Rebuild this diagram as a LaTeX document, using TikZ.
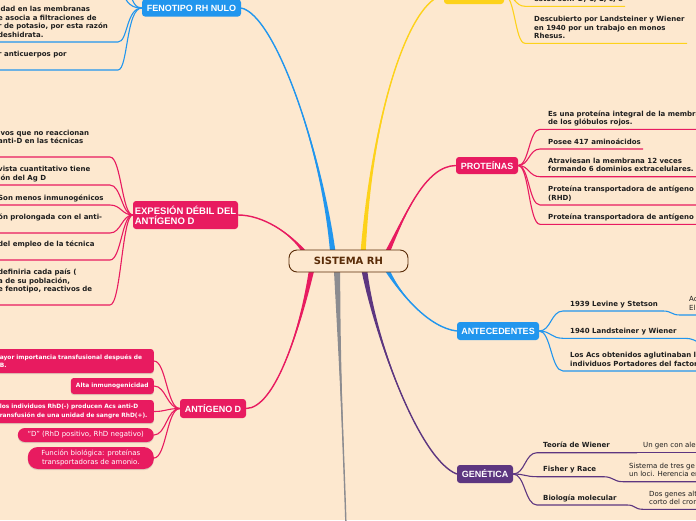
\documentclass[tikz,border=0pt]{standalone}
\usepackage{fontspec}
\usetikzlibrary{calc,shadows}
\newfontfamily\dejavu{DejaVu Sans}
\newfontfamily\liber{Liberation Sans}
\definecolor{fondo}{HTML}{FDE8CF}
\definecolor{rosa}{HTML}{E81B60}
\definecolor{azul}{HTML}{2196EE}
\definecolor{amarillo}{HTML}{FDD21B}
\definecolor{morado}{HTML}{5D3680}
\definecolor{gris}{HTML}{8C8C90}
\definecolor{cafe}{HTML}{5A2C08}
\definecolor{tinta}{HTML}{1E1E1E}
\newcommand{\hojafont}{\dejavu\bfseries\fontsize{7}{8.5}\selectfont}
\newcommand{\notafont}{\dejavu\fontsize{7}{8.5}\selectfont}
\newcommand{\temafont}{\liber\bfseries\fontsize{9}{10}\selectfont}
\newcommand{\raizfont}{\dejavu\bfseries\fontsize{10}{12}\selectfont}
\newcommand{\fichafont}{\dejavu\bfseries\fontsize{5.9}{8.3}\selectfont}
\newcommand{\fichaligera}{\dejavu\fontsize{7}{9}\selectfont}
\pgfdeclarelayer{ramas}
\pgfsetlayers{ramas,main}
% tapered main branch: colour, dx, dy (from root centre), half width, control 1, control 2, target
\newcommand{\rama}[7]{%
  \fill[#1] ($(rh.center)+(#2-#4,#3)$) .. controls #5 and #6 .. (#7)
    .. controls #6 and #5 .. ($(rh.center)+(#2+#4,#3)$) -- cycle;
  \draw[#1,line width=1.4pt] ($(rh.center)+(#2,#3)$) .. controls #5 and #6 .. (#7);}

\begin{document}
\begin{tikzpicture}[x=1pt,y=-1pt]
  \tikzstyle{tema}=[rounded corners=3pt,text=white,font=\temafont,inner sep=0pt]
  \tikzstyle{hoja}=[font=\hojafont,text=tinta,align=left,inner xsep=0pt,inner ysep=2pt,anchor=south west,execute at end node={\strut}]
  \tikzstyle{nota}=[hoja,font=\notafont]
  \tikzstyle{ficha}=[fill=rosa,text=white,font=\fichafont,rounded corners=3pt,anchor=east,drop shadow={opacity=.25,shadow xshift=0pt,shadow yshift=-1.2pt}]
  \tikzstyle{enlace}=[line width=1.1pt]

  \useasboundingbox (0,0) rectangle (696,520);

  \node[draw=cafe,line width=0.9pt,fill=fondo,rounded corners=8pt,minimum width=119pt,minimum height=22pt,text=cafe,font=\raizfont] (rh) at (348.5,261) {SISTEMA RH};

  \node[tema,fill=azul,minimum width=99pt,minimum height=17pt] (fen) at (191.5,8) {FENOTIPO RH NULO};
  \node[tema,fill=amarillo,minimum width=60pt,minimum height=18pt] (gral) at (474,-5) {};
  \node[tema,fill=rosa,minimum width=105pt,minimum height=28pt,align=left,font=\liber\bfseries\fontsize{9.5}{10}\selectfont] (debil) at (185.5,215) {EXPESIÓN DÉBIL DEL\\ANTÍGENO D};
  \node[tema,fill=rosa,minimum width=66pt,minimum height=19pt] (antd) at (213,408.5) {ANTÍGENO D};
  \node[tema,fill=rosa,minimum width=62pt,minimum height=17pt] (prot) at (487,165.5) {PROTEÍNAS};
  \node[tema,fill=azul,minimum width=82pt,minimum height=18pt] (ante) at (498,331) {ANTECEDENTES};
  \node[tema,fill=morado,minimum width=56pt,minimum height=18pt] (gene) at (485,474) {GENÉTICA};
  \coordinate (fin) at (348,600);

  \node[hoja] (f1) at (-2,42) {idad en las membranas\\e asocia a filtraciones de\\r de potasio, por esta razón\\deshidrata.};
  \node[hoja] (f2) at (-2,70) {r anticuerpos por\\};
  \coordinate (fu1) at (121,-12);
  \coordinate (fu2) at (129,-16);

  \node[hoja] (e1) at (-2,157) {ivos que no reaccionan\\anti-D en las técnicas\\};
  \node[hoja] (e2) at (-2,185) {vista cuantitativo tiene\\ión del Ag D};
  \node[hoja] (e3) at (-2,205) {Son menos inmunogénicos};
  \node[hoja] (e4) at (-2,233) {ón prolongada con el anti-\\};
  \node[hoja] (e5) at (-2,260) {del empleo de la técnica\\};
  \node[hoja] (e6) at (-2,305) {definiria cada país (\\a de su población,\\e fenotipo, reactivos de\\};

  \node[ficha,text width=150pt,align=left,minimum height=24pt,inner xsep=4pt] (a1) at (154,361) {\mbox{ayor importancia transfusional después de}\\B.};
  \node[ficha,minimum width=83pt,minimum height=16pt,inner sep=0pt] (a2) at (154,386) {Alta inmunogenicidad};
  \node[ficha,text width=150pt,align=left,minimum height=23pt,inner xsep=4pt] (a3) at (154,411.5) {\mbox{los individuos RhD(-) producen Acs anti-D}\\\mbox{ransfusión de una unidad de sangre RhD(+).}};
  \node[ficha,font=\fichaligera,rounded corners=7pt,minimum width=136pt,minimum height=14pt,inner sep=0pt] (a4) at (154,435) {“D” (RhD positivo, RhD negativo)};
  \node[ficha,font=\fichaligera,rounded corners=10pt,minimum width=126pt,minimum height=22pt,align=center,inner sep=0pt] (a5) at (154,458) {Función biológica: proteínas\\transportadoras de amonio.};

  \node[hoja] (p1) at (548,129.3) {Es una proteína integral de la membra\\de los glóbulos rojos.};
  \node[hoja] (p2) at (548,149) {Posee 417 aminoácidos};
  \node[hoja] (p3) at (548,176.7) {Atraviesan la membrana 12 veces\\formando 6 dominios extracelulares.};
  \node[hoja] (p4) at (548,205) {Proteína transportadora de antígeno D\\(RHD)};
  \node[hoja] (p5) at (548,224.3) {Proteína transportadora de antígeno -};

  \node[hoja] (t1) at (570,311) {1939 Levine y Stetson};
  \node[hoja] (t2) at (570,338.3) {1940 Landsteiner y Wiener};
  \node[hoja] (t3) at (570,371) {Los Acs obtenidos aglutinaban lo\\individuos Portadores del factor};
  \node[nota] (t1n) at (689,315) {Ac\\El};
  \coordinate (t2n) at (712,347);

  \node[hoja] (g1) at (543,452.7) {Teoría de Wiener};
  \node[hoja] (g2) at (543,476.7) {Fisher y Race};
  \node[hoja] (g3) at (543,505) {Biología molecular};
  \node[nota] (g1n) at (643,452.7) {Un gen con ale};
  \node[nota] (g2n) at (629,481.7) {Sistema de tres ge\\un loci. Herencia er};
  \node[nota] (g3n) at (649,509.3) {Dos genes alt\\corto del crom};

  \node[hoja] (y1) at (534,6.3) {estos son: D, C, E, c, e};
  \node[hoja] (y2) at (534,43.3) {Descubierto por Landsteiner y Wiener\\en 1940 por un trabajo en monos\\Rhesus.};

  \begin{pgfonlayer}{ramas}
    \fill[fondo] (0,0) rectangle (696,520);
    \rama{azul}{-15.5}{-7}{2.8}{(322,150)}{(275,15)}{fen.east}
    \rama{amarillo}{14.5}{-7}{2.6}{(372,110)}{(410,0)}{gral.west}
    \rama{rosa}{37.5}{-6}{2.8}{(405,215)}{(425,166)}{prot.west}
    \rama{rosa}{-42.5}{-7}{2.8}{(290,232)}{(262,215)}{debil.east}
    \rama{rosa}{-36.5}{7}{2.8}{(300,330)}{(275,408)}{antd.east}
    \rama{gris}{-11.5}{7}{3.2}{(340,380)}{(346,500)}{fin}
    \rama{morado}{15.5}{7}{3}{(375,340)}{(420,460)}{gene.west}
    \rama{azul}{37.5}{7}{2.8}{(400,295)}{(430,328)}{ante.west}
  \end{pgfonlayer}

  \draw[azul,enlace] (fen.west) .. controls (133,8) and (126,5) .. (fu1);
  \draw[azul,enlace] (fen.west) .. controls (136,8) and (131,3) .. (fu2);
  \draw[azul,enlace] (fen.west) .. controls (126,8) and (128,42) .. ([xshift=120pt]f1.south west) -- ([xshift=-4pt]f1.south west);
  \draw[azul,enlace] (fen.west) .. controls (126,8) and (128,70) .. ([xshift=120pt]f2.south west) -- ([xshift=-4pt]f2.south west);

  \foreach \h/\y in {e1/157,e2/185,e3/205,e4/233,e5/260,e6/305}
    \draw[rosa,enlace] (debil.west) .. controls (122,215) and (121,\y) .. ([xshift=112pt]\h.south west) -- ([xshift=-4pt]\h.south west);

  \foreach \h/\y in {a1/361,a2/386,a3/411.5,a4/435,a5/458}
    \draw[rosa,enlace] (antd.west) .. controls (167,408.5) and (166,\y) .. (\h.east);

  \foreach \h/\y/\l in {p1/129.3/170,p2/149/95,p3/176.7/170,p4/205/170,p5/224.3/170}
    \draw[rosa,enlace] (prot.east) .. controls (529,165.5) and (529,\y) .. ([xshift=-8pt]\h.south west) -- ([xshift=\l pt]\h.south west);

  \foreach \h/\y/\l in {t1/311/93,t2/338.3/115,t3/371/150}
    \draw[azul,enlace] (ante.east) .. controls (551,331) and (551,\y) .. ([xshift=-7pt]\h.south west) -- ([xshift=\l pt]\h.south west);
  \draw[azul,enlace] ([xshift=93pt]t1.south west) .. controls (672,311) and (671,315) .. ([xshift=-9pt]t1n.south west) -- ([xshift=20pt]t1n.south west);
  \draw[azul,enlace] ([xshift=115pt]t2.south west) .. controls (698,338.3) and (700,347) .. (t2n);

  \foreach \h/\y/\l in {g1/452.7/94,g2/476.7/60,g3/505/84}
    \draw[morado,enlace] (gene.east) .. controls (525,474) and (525,\y) .. ([xshift=-6pt]\h.south west) -- ([xshift=\l pt]\h.south west);
  \draw[morado,enlace] ([xshift=94pt]g1.south west) -- ([xshift=60pt]g1n.south west);
  \draw[morado,enlace] ([xshift=60pt]g2.south west) .. controls (614,476.7) and (613,481.7) .. ([xshift=-6pt]g2n.south west) -- ([xshift=80pt]g2n.south west);
  \draw[morado,enlace] ([xshift=84pt]g3.south west) .. controls (636,505) and (634,509.3) .. ([xshift=-6pt]g3n.south west) -- ([xshift=60pt]g3n.south west);

  \foreach \h/\y/\l in {y1/6.3/91,y2/43.3/153}
    \draw[amarillo,enlace] (gral.east) .. controls (515,-5) and (515,\y) .. ([xshift=-9pt]\h.south west) -- ([xshift=\l pt]\h.south west);
\end{tikzpicture}
\end{document}
